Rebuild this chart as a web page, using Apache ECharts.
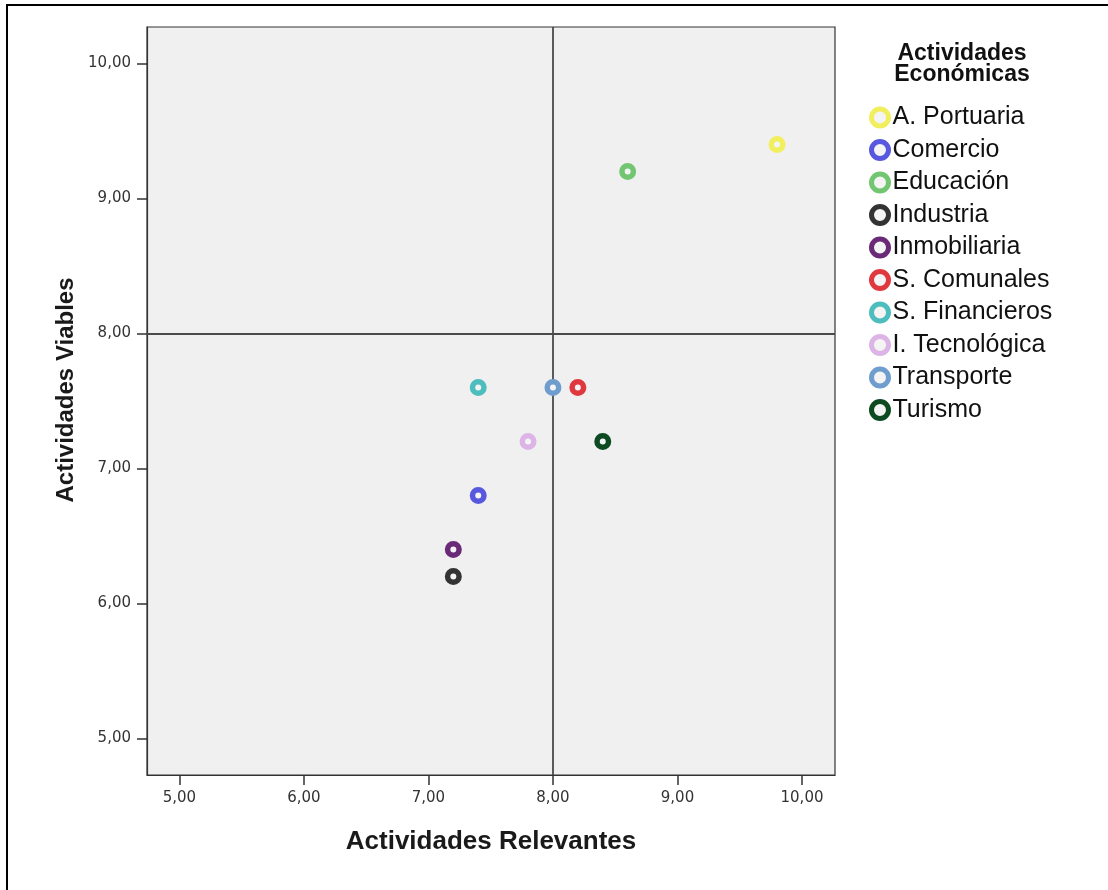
<!DOCTYPE html>
<html><head><meta charset="utf-8">
<script src="https://cdn.jsdelivr.net/npm/echarts@6/dist/echarts.min.js"></script>
<style>html,body{margin:0;padding:0;background:#fff}#c{width:1108px;height:890px}</style>
</head><body><div id="c"></div>
<script>
const categories = ['A. Portuaria','Comercio','Educación','Industria','Inmobiliaria','S. Comunales','S. Financieros','I. Tecnológica','Transporte','Turismo'];
const relevantes = [9.8, 7.4, 8.6, 7.2, 7.2, 8.2, 7.4, 7.8, 8.0, 8.4];
const viables    = [9.4, 6.8, 9.2, 6.2, 6.4, 7.6, 7.6, 7.2, 7.6, 7.2];
const colors = ['#f2ef5e','#5757e0','#72c672','#333333','#6a2a78','#e0383f','#4dbdbd','#dcb5e6','#6f9dcd','#0d4a22'];
const tickValues = [5, 6, 7, 8, 9, 10];
const refX = 8, refY = 8;

const fmt = v => v.toFixed(2).replace('.', ',');
const series = categories.map((name, i) => ({
  name, type: 'scatter', symbol: 'circle', symbolSize: 11.5,
  data: [[relevantes[i], viables[i]]],
  itemStyle: { color: '#f4f4f4', borderColor: colors[i], borderWidth: 5.5, opacity: 1 },
  z: 5
}));
series.push({
  name: '__ref', type: 'scatter', data: [], silent: true,
  markLine: {
    silent: true, symbol: ['none','none'], label: { show: false },
    lineStyle: { color: '#4a4a4a', width: 1.8, type: 'solid' },
    data: [{ xAxis: refX }, { yAxis: refY }]
  }, z: 3
});

const chart = echarts.init(document.getElementById('c'));
chart.setOption({
  animation: false,
  backgroundColor: '#fff',
  grid: { left: 147, right: 273, top: 27, bottom: 115, show: true, backgroundColor: '#f0f0f0', borderColor: '#333', borderWidth: 1.2 },
  xAxis: {
    type: 'value', min: 4.74, max: 10.265,
    name: 'Actividades Relevantes', nameLocation: 'middle', nameGap: 54,
    nameTextStyle: { fontFamily: 'Liberation Sans', fontWeight: 'bold', fontSize: 26, color: '#1a1a1a' },
    axisLine: { show: true, onZero: false, lineStyle: { color: '#333', width: 1.2 } },
    axisTick: { show: true, length: 10, customValues: tickValues, lineStyle: { color: '#333', width: 1.5 } },
    axisLabel: { customValues: tickValues, formatter: fmt, fontFamily: 'DejaVu Sans', fontSize: 15, color: '#333', margin: 16 },
    splitLine: { show: false }
  },
  yAxis: {
    type: 'value', min: 4.73, max: 10.27,
    axisLine: { show: true, onZero: false, lineStyle: { color: '#333', width: 1.2 } },
    axisTick: { show: true, length: 10, customValues: tickValues, lineStyle: { color: '#333', width: 1.5 } },
    axisLabel: { customValues: tickValues, formatter: fmt, fontFamily: 'DejaVu Sans', fontSize: 15, color: '#333', margin: 16 },
    splitLine: { show: false }
  },
  legend: {
    data: categories, orient: 'vertical', left: 864, top: 100,
    icon: 'circle', itemWidth: 17, itemHeight: 17, itemGap: 7.5,
    itemStyle: { color: '#f4f4f4', borderWidth: 5 },
    textStyle: { fontFamily: 'Liberation Sans', fontSize: 25, lineHeight: 23, color: '#111', padding: [0,0,0,-1] },
    selectedMode: false
  },
  graphic: [
    { type: 'text', x: 962, y: 43, style: { text: 'Actividades\nEconómicas', fontFamily: 'Liberation Sans', fontWeight: 'bold', fontSize: 23, lineHeight: 21, fill: '#111', align: 'center' } },
    { type: 'text', x: 66, y: 390, rotation: Math.PI / 2, style: { text: 'Actividades Viables', fontFamily: 'Liberation Sans', fontWeight: 'bold', fontSize: 24, fill: '#1a1a1a', align: 'center', verticalAlign: 'middle' } },
    { type: 'line', shape: { x1: 6, y1: 5, x2: 1108, y2: 5 }, style: { stroke: '#000', lineWidth: 2 } },
    { type: 'line', shape: { x1: 7, y1: 5, x2: 7, y2: 890 }, style: { stroke: '#000', lineWidth: 2 } }
  ],
  series
});
</script></body></html>
